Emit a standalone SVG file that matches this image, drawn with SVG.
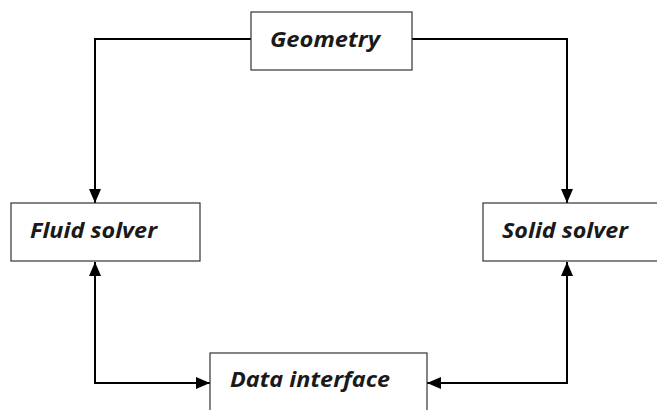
<svg xmlns="http://www.w3.org/2000/svg" width="657" height="410" viewBox="0 0 657 410">
<style>
.box{fill:#fff;stroke:#333;stroke-width:1.2}
.lbl{font-family:"Open Sans","Noto Sans",sans-serif;font-style:italic;font-weight:bold;font-size:22px;fill:#1a1a1a}
.con{fill:none;stroke:#000;stroke-width:2}
</style>
<defs>
<marker id="ah" viewBox="0 0 14 12" refX="14" refY="6" markerWidth="14" markerHeight="12" markerUnits="userSpaceOnUse" orient="auto-start-reverse">
<path d="M0,0 L14,6 L0,12 Z" fill="#000"/>
</marker>
</defs>
<rect width="657" height="410" fill="#fff"/>
<g id="connectors">
<path class="con" d="M251,39 H95 V203" marker-end="url(#ah)"/>
<path class="con" d="M412,39 H567 V203" marker-end="url(#ah)"/>
<path class="con" d="M95,262 V383 H210" marker-start="url(#ah)" marker-end="url(#ah)"/>
<path class="con" d="M567,262 V383 H427" marker-start="url(#ah)" marker-end="url(#ah)"/>
</g>
<g id="geometry">
<rect class="box" x="251" y="12" width="161" height="58"/>
<text class="lbl" x="270" y="47" textLength="110" lengthAdjust="spacingAndGlyphs">Geometry</text>
</g>
<g id="fluid">
<rect class="box" x="11" y="203" width="189" height="58"/>
<text class="lbl" x="30" y="238" textLength="127" lengthAdjust="spacingAndGlyphs">Fluid solver</text>
</g>
<g id="solid">
<rect class="box" x="483" y="203" width="190" height="58"/>
<text class="lbl" x="502" y="238" textLength="126" lengthAdjust="spacingAndGlyphs">Solid solver</text>
</g>
<g id="data">
<rect class="box" x="210" y="353" width="217" height="70"/>
<text class="lbl" x="230" y="387" textLength="160" lengthAdjust="spacingAndGlyphs">Data interface</text>
</g>
</svg>
